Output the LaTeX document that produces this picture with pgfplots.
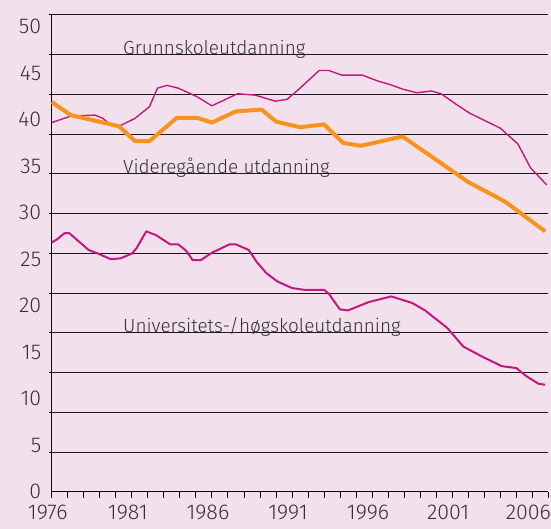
\documentclass[border=0pt]{standalone}
\usepackage{fontspec}
\setmainfont{Fira Sans Light}
\usepackage{pgfplots}
\pgfplotsset{compat=1.18}
\definecolor{bgpink}{HTML}{F2E1EC}
\definecolor{magline}{HTML}{C4177F}
\definecolor{orline}{HTML}{F7941D}
\definecolor{txt}{HTML}{333333}

\begin{document}
\begin{tikzpicture}
% page frame and background
\path[use as bounding box, fill=bgpink] (-51.7bp,-37.3bp) rectangle (499.3bp,491.7bp);
\begin{axis}[
    scale only axis, width=496.6bp, height=477bp,
    xmin=1976, xmax=2007, ymin=0, ymax=51.3,
    axis x line*=bottom, axis y line*=left,
    axis line style={black, line width=0.9bp, -},
    tick align=outside,
    xtick={1976,1981,...,2006}, minor xtick={1976,...,2007},
    xticklabels={1976,1981,1986,1991,1996,2001,2006},
    major tick length=6bp, minor tick length=6bp,
    x tick style={black, line width=0.8bp},
    xticklabel style={xshift=-4bp, yshift=-4bp},
    ytick={0,5,...,50},
    y tick style={draw=none},
    yticklabel style={xshift=-1bp},
    extra y ticks={4.275,8.55,12.825,17.1,21.375,25.65,29.925,34.2,38.475,42.75,47.025,51.3},
    extra y tick labels={},
    extra y tick style={grid=major, major tick length=3bp,
        y tick style={draw=black, line width=0.8bp}},
    major grid style={black!90, line width=0.8bp},
    tick label style={font=\fontsize{21.5}{24}\selectfont, text=txt},
    /pgf/number format/assume math mode=true,
    clip=false,
]
% Grunnskoleutdanning
\addplot[magline, line width=1.4bp, line join=round] coordinates {
(1976.0,39.7) (1977.2,40.4) (1978.7,40.5) (1979.2,40.15) (1979.5,39.7)
(1980.2,39.3) (1981.2,40.15) (1982.1,41.4) (1982.6,43.4) (1983.2,43.7)
(1983.9,43.4) (1985.05,42.5) (1986.0,41.5) (1987.6,42.8) (1988.7,42.65)
(1989.95,42.0) (1990.7,42.2) (1991.5,43.4) (1992.7,45.3) (1993.3,45.3)
(1994.1,44.8) (1995.4,44.8) (1996.3,44.2) (1997.1,43.8) (1997.9,43.3)
(1998.8,42.9) (1999.7,43.1) (2000.3,42.8) (2001.3,41.6) (2002.1,40.7)
(2004.0,39.1) (2005.1,37.4) (2005.9,34.8) (2006.9,33.0)
};
% Videregaaende utdanning
\addplot[orline, line width=4bp, line join=round] coordinates {
(1976.0,41.9) (1977.2,40.5) (1980.2,39.3) (1981.2,37.7) (1982.1,37.7)
(1983.8,40.2) (1985.1,40.2) (1986.0,39.7) (1987.5,40.9) (1989.1,41.1)
(1990.0,39.8) (1991.5,39.2) (1993.0,39.5) (1994.2,37.5) (1995.3,37.2)
(1997.9,38.2) (2002.0,33.3) (2004.3,31.2) (2006.8,28.0)
};
% Universitets-/hoegskoleutdanning
\addplot[magline, line width=2bp, line join=round] coordinates {
(1976.0,26.8) (1976.3,27.1) (1976.8,27.8) (1977.1,27.8) (1978.3,26.0)
(1978.9,25.6) (1979.7,25.0) (1980.3,25.1) (1981.0,25.6) (1981.3,26.2)
(1981.9,28.0) (1982.5,27.6) (1983.4,26.6) (1983.9,26.6) (1984.4,25.9)
(1984.8,24.9) (1985.3,24.9) (1986.0,25.7) (1987.1,26.6) (1987.5,26.6)
(1988.3,26.0) (1988.8,24.7) (1989.4,23.5) (1990.1,22.6) (1991.0,21.9)
(1991.8,21.7) (1993.0,21.7) (1993.3,21.3) (1993.7,20.3) (1994.0,19.6)
(1994.5,19.5) (1995.8,20.4) (1997.2,21.0) (1998.5,20.3) (1999.3,19.5)
(2000.7,17.6) (2001.7,15.6) (2002.9,14.5) (2004.1,13.5) (2005.0,13.3)
(2005.65,12.4) (2006.4,11.6) (2006.8,11.5)
};
\node[anchor=base west, inner sep=0, text=txt, font=\fontsize{19}{22}\selectfont]
    at (axis cs:1980.45,47.025) {Grunnskoleutdanning};
\node[anchor=base west, inner sep=0, text=txt, font=\fontsize{19}{22}\selectfont]
    at (axis cs:1980.45,34.2) {Videregående utdanning};
\node[anchor=base west, inner sep=0, text=txt, font=\fontsize{19}{22}\selectfont]
    at (axis cs:1980.45,17.1) {Universitets-/høgskoleutdanning};
\end{axis}
\end{tikzpicture}
\end{document}
